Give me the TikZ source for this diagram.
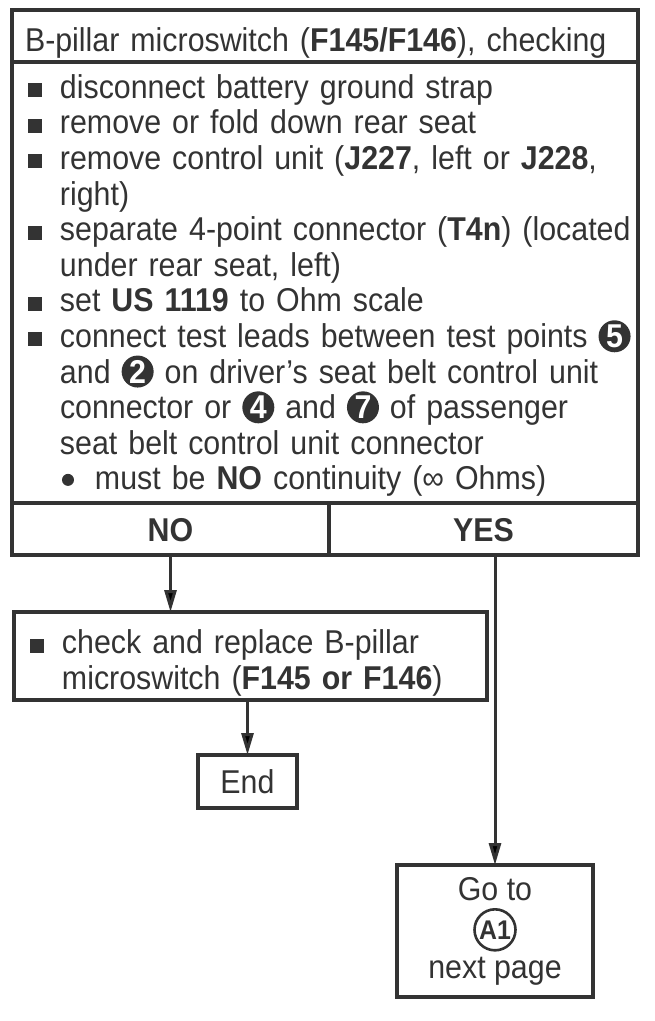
\documentclass[tikz,border=0pt]{standalone}
\usepackage{fontspec}
\setmainfont{Liberation Sans}[FakeStretch=0.92]
\usetikzlibrary{arrows.meta}

\definecolor{ink}{gray}{0.2}
\newcommand{\bodyfont}{\fontsize{33pt}{35.6pt}\selectfont}
\newcommand{\sqbullet}{\textcolor{ink}{\rule[1pt]{14pt}{14pt}}}
\newcommand{\dotmark}{\tikz[baseline=-10pt]\fill[ink] (0,0) circle (6pt);}
\newcommand{\blackpt}[1]{\tikz[baseline=(d.base)]\node[circle,fill=ink,text=white,inner sep=0pt,minimum size=32pt,font=\bfseries] (d) {#1};}
\newcommand{\gotomark}[1]{\tikz[baseline=(g.base)]\node[circle,draw=ink,line width=2.6pt,inner sep=0pt,minimum size=41pt,font=\fontsize{27pt}{27pt}\selectfont\bfseries] (g) {#1};}
\newcommand{\stepline}[1]{\hangindent=46pt\hangafter=1\noindent\makebox[46pt][l]{\hspace{14pt}\sqbullet}#1\par}
\newcommand{\subline}[1]{\hangindent=81pt\hangafter=1\noindent\hspace{46pt}\makebox[35pt][l]{\hspace{2pt}\dotmark}#1\par}

\begin{document}
\begin{tikzpicture}[x=1pt, y=1pt,
    box/.style={draw=ink, line width=3.2pt, outer sep=0pt, text=ink, font=\bodyfont},
    answer/.style={box, minimum height=52pt, text height=24pt, text depth=0pt, font=\bodyfont\bfseries},
    flow/.style={draw=ink, line width=3pt, -{Triangle[length=22pt,width=12pt]}}]
    \useasboundingbox (0,0) rectangle (655,-1021);

    %test box
    \node[box, anchor=north west, minimum width=626pt, minimum height=52pt, inner xsep=13pt,
          text width=600pt, align=left, text height=30pt, text depth=0pt] (title) at (12,-10)
        {B-pillar microswitch (\textbf{F145/F146}), checking};
    \node[box, anchor=north west, minimum height=441pt, inner xsep=2pt, text width=622pt, align=left] (checks) at (title.south west) {%
        \stepline{\rule{0pt}{30pt}disconnect battery ground strap}
        \stepline{remove or fold down rear seat}
        \stepline{remove control unit (\textbf{J227}, left or \textbf{J228},\newline right)}
        \stepline{separate 4-point connector (\textbf{T4n}) (located\newline under rear seat, left)}
        \stepline{set \textbf{US 1119} to Ohm scale}
        \stepline{connect test leads between test points \blackpt{5}\newline and \blackpt{2} on driver's seat belt control unit\newline connector or \blackpt{4} and \blackpt{7} of passenger\newline seat belt control unit connector}
        \subline{must be \textbf{NO} continuity (∞ Ohms)}};

    %answers
    \node[answer, anchor=north west, minimum width=317pt] (no) at (checks.south west) {NO};
    \node[answer, anchor=north west, minimum width=309pt] (yes) at (no.north east) {YES};

    %results
    \node[box, anchor=north west, minimum width=473pt, minimum height=88pt, inner xsep=2pt, text width=469pt, align=left] (replace) at (14,-612) {%
        \stepline{\rule{0pt}{38pt}check and replace B-pillar\newline microswitch (\textbf{F145 or F146})}};
    \node[box, anchor=north west, minimum width=99pt, minimum height=53pt, text height=24pt, text depth=0pt] (finish) at (198,-755) {End};
    \node[box, anchor=north west, minimum width=196pt, minimum height=132pt, align=center,
          font=\fontsize{33pt}{39pt}\selectfont] (goto) at (397,-865) {Go to\\\gotomark{A1}\\next page};

    %arrows
    \draw[flow] (no.south) -- (no.south |- replace.north);
    \draw[flow] (replace.south -| finish.north) -- (finish.north);
    \draw[flow] (yes.south -| goto.north) -- (goto.north);
\end{tikzpicture}
\end{document}
